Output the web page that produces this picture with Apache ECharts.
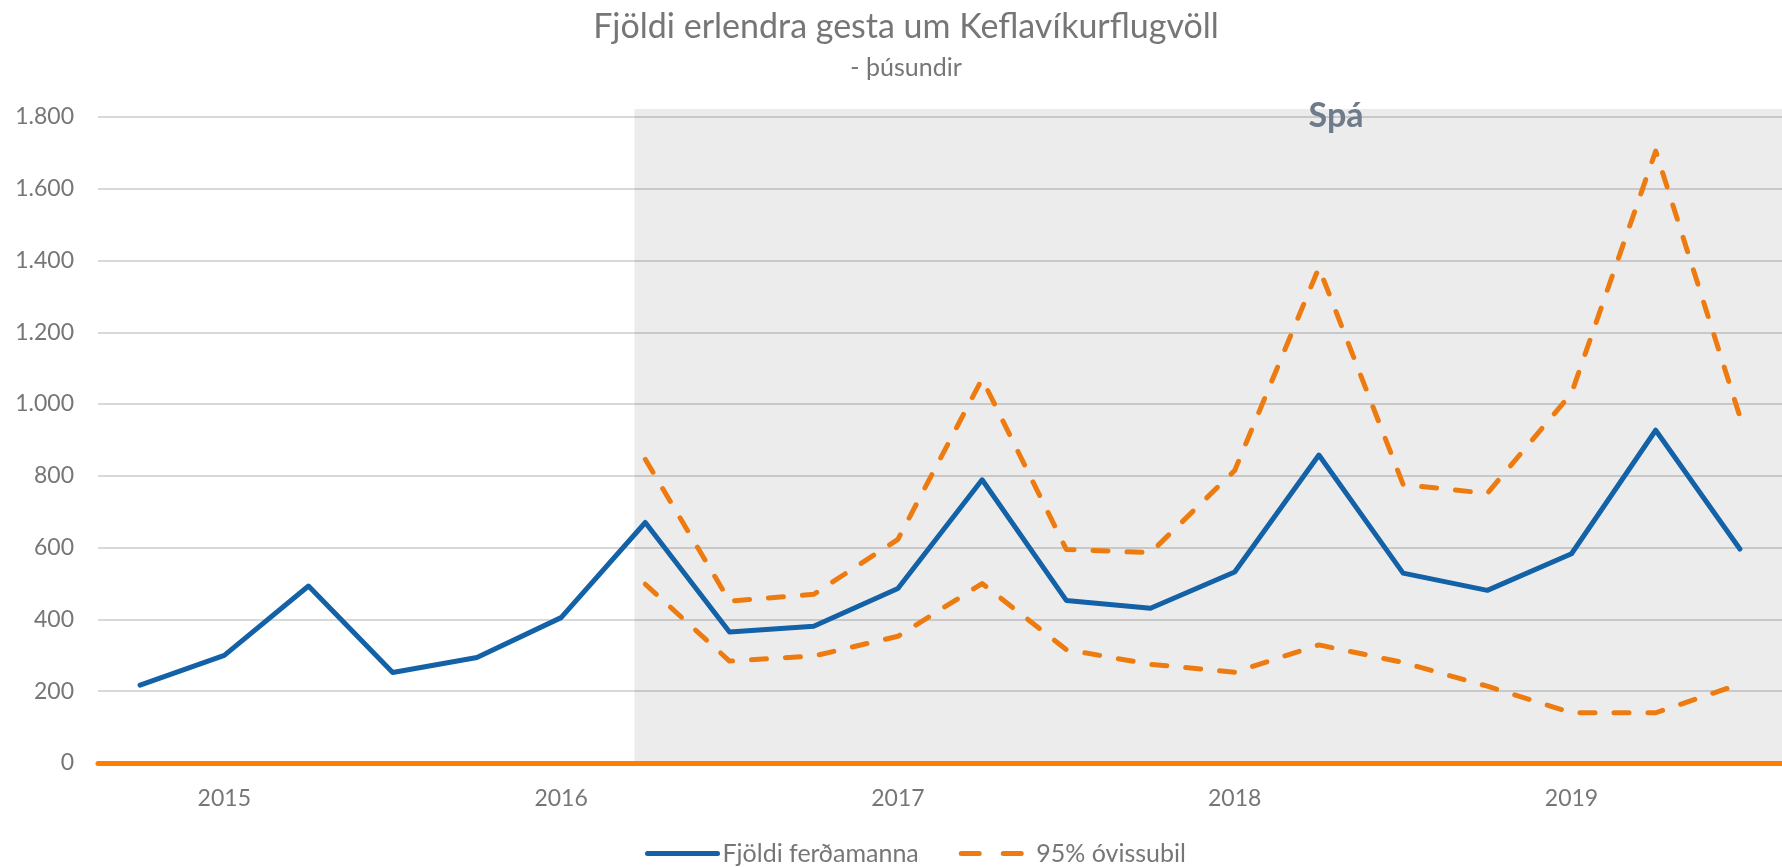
<!DOCTYPE html>
<html>
<head>
<meta charset="utf-8">
<script src="https://cdn.jsdelivr.net/npm/echarts@6/dist/echarts.min.js"></script>
<style>
  html, body { margin: 0; padding: 0; background: #fff; }
  #chart { width: 1782px; height: 867px; }
</style>
</head>
<body>
<div id="chart"></div>
<script>
// ársfjórðungar, 2014 F4 til 2019 F3
const quarters = [
  '2014 F4',
  '2015 F1', '2015 F2', '2015 F3', '2015 F4',
  '2016 F1', '2016 F2', '2016 F3', '2016 F4',
  '2017 F1', '2017 F2', '2017 F3', '2017 F4',
  '2018 F1', '2018 F2', '2018 F3', '2018 F4',
  '2019 F1', '2019 F2', '2019 F3'
]
const visitors = [217, 300, 493, 252, 294, 405, 670, 365, 381, 486, 789, 453, 431, 532, 858, 529, 481, 583, 927, 596]
const upper = [null, null, null, null, null, null, 846, 451, 470, 623, 1070, 595, 586, 815, 1380, 776, 751, 1030, 1705, 965]
const lower = [null, null, null, null, null, null, 498, 284, 298, 353, 500, 316, 275, 253, 329, 280, 214, 140, 140, 220]
const yTicks = [0, 200, 400, 600, 800, 1000, 1200, 1400, 1600, 1800]
// spátímabil byrjar (í einingum flokka á x-ás)
const forecastStart = 6.37
const forecastTop = 1822

const font = 'Lato, "Open Sans", sans-serif'
const gray = '#767676'
const blue = '#1361a6'
const orange = '#ee7b10'

const chart = echarts.init(document.getElementById('chart'))
chart.setOption({
  animation: false,
  textStyle: { fontFamily: font },
  title: [
    {
      text: 'Fjöldi erlendra gesta um Keflavíkurflugvöll',
      left: 901, top: 5, textAlign: 'center',
      textStyle: { fontSize: 34, fontWeight: 'normal', color: gray, fontFamily: font }
    },
    {
      text: '- þúsundir',
      left: 901, top: 50, textAlign: 'center',
      textStyle: { fontSize: 25, fontWeight: 'normal', color: gray, fontFamily: font }
    },
    {
      text: 'Spá',
      left: 1331, top: 94, textAlign: 'center',
      textStyle: { fontSize: 34, fontWeight: 'bold', color: '#6e7b8a', fontFamily: font }
    }
  ],
  legend: {
    data: [
      { name: 'Fjöldi ferðamanna' },
      { name: '95% óvissubil', lineStyle: { type: [18, 24], width: 5, cap: 'round' } }
    ],
    left: 640, top: 836,
    itemWidth: 70, itemHeight: 14, itemGap: 40,
    itemStyle: { opacity: 0 },
    lineStyle: { width: 5, cap: 'round' },
    textStyle: { fontSize: 25, color: gray, fontFamily: font }
  },
  grid: { left: 98, right: -5, top: 109, bottom: 104 },
  xAxis: [
    {
      type: 'category',
      data: quarters,
      boundaryGap: true,
      z: 10,
      axisLine: { lineStyle: { color: '#ff7f00', width: 5 } },
      axisTick: { show: false },
      axisLabel: {
        interval: (i, v) => v.endsWith('F1'),
        formatter: v => v.slice(0, 4),
        margin: 24,
        fontSize: 23,
        color: gray
      }
    },
    { type: 'value', min: 0, max: quarters.length, show: false }
  ],
  yAxis: {
    type: 'value',
    min: yTicks[0],
    max: forecastTop,
    interval: 200,
    axisLine: { show: false },
    axisTick: { show: false },
    splitLine: { showMaxLine: false, lineStyle: { color: '#d9d9d9', width: 2 } },
    axisLabel: {
      showMaxLabel: false,
      margin: 24,
      fontSize: 23,
      color: gray,
      formatter: v => String(v).replace(/\B(?=(\d{3})+(?!\d))/g, '.')
    }
  },
  series: [
    {
      type: 'line',
      xAxisIndex: 1,
      data: [],
      silent: true,
      markArea: {
        silent: true,
        itemStyle: { color: 'rgba(0,0,0,0.075)' },
        data: [[{ coord: [forecastStart, 0] }, { coord: [quarters.length, forecastTop] }]]
      }
    },
    {
      name: 'Fjöldi ferðamanna',
      type: 'line',
      data: visitors,
      symbol: 'none',
      z: 5,
      lineStyle: { color: blue, width: 5, join: 'round', cap: 'round' },
      itemStyle: { color: blue }
    },
    {
      name: '95% óvissubil',
      type: 'line',
      data: upper,
      symbol: 'none',
      z: 4,
      lineStyle: { color: orange, width: 5, type: [15, 19], cap: 'round', join: 'round' },
      itemStyle: { color: orange }
    },
    {
      name: '95% óvissubil',
      type: 'line',
      data: lower,
      symbol: 'none',
      z: 4,
      lineStyle: { color: orange, width: 5, type: [15, 19], cap: 'round', join: 'round' },
      itemStyle: { color: orange }
    }
  ]
})
</script>
</body>
</html>
